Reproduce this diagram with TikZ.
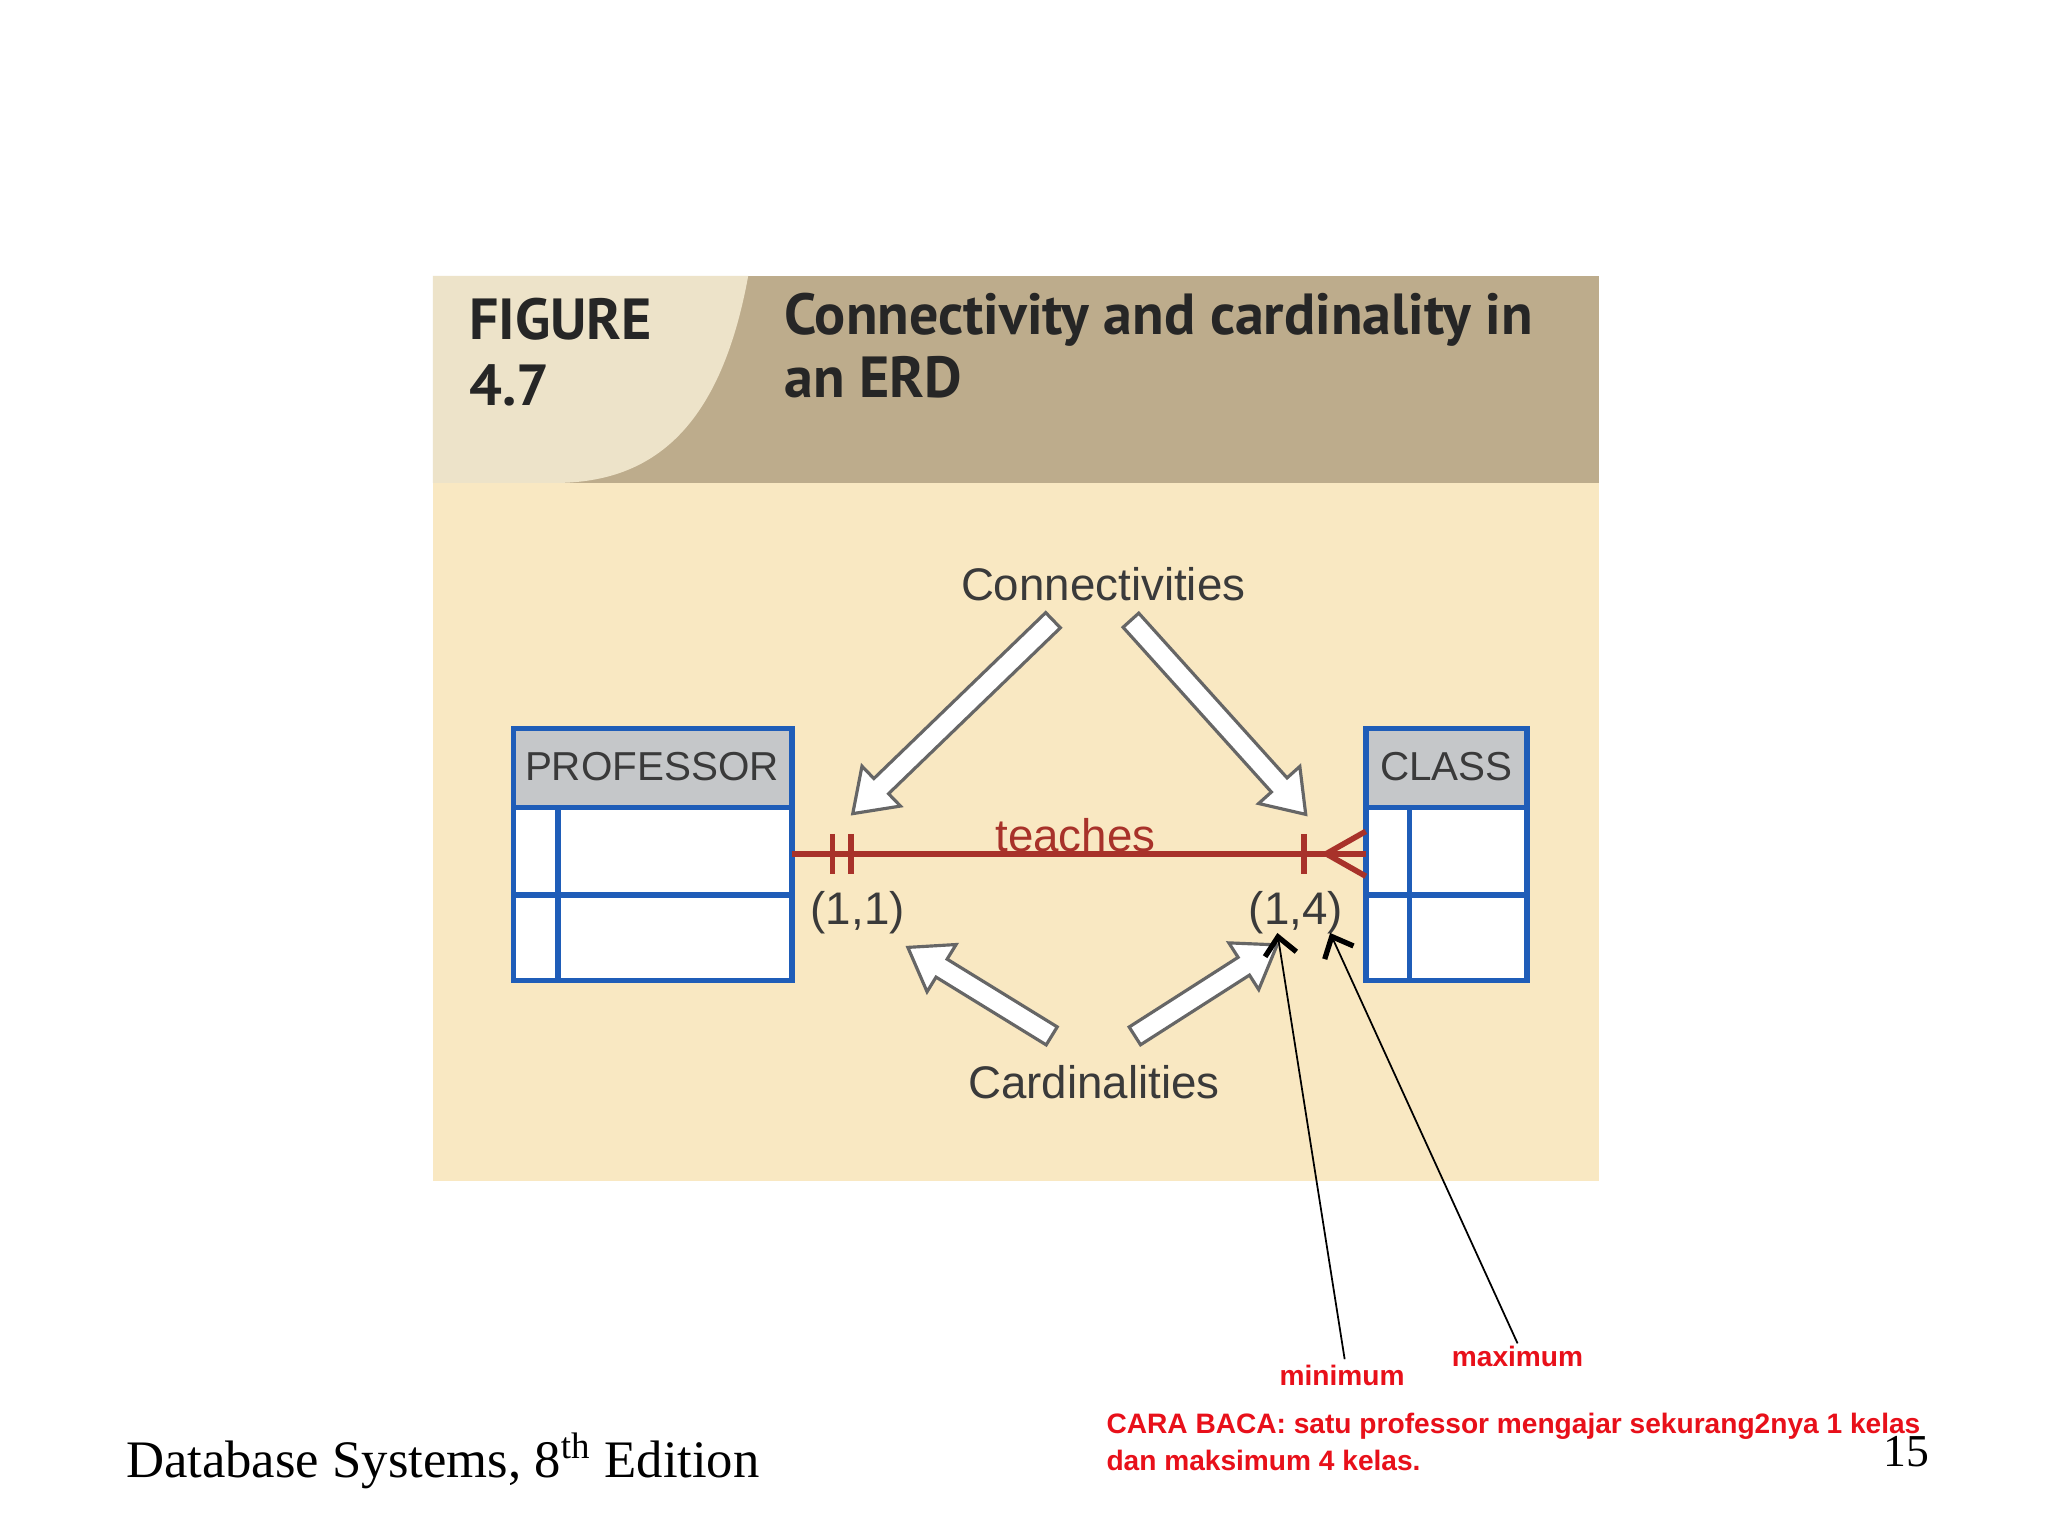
\documentclass[tikz,border=0pt]{standalone}
\usepackage{fontspec}
\setmainfont{Liberation Serif}
\newfontfamily\myss{Liberation Sans}
\newfontfamily\myfig{PT Sans}
\usetikzlibrary{arrows.meta}
\definecolor{tan}{HTML}{BDAC8C}
\definecolor{lighttan}{HTML}{EDE3C9}
\definecolor{body}{HTML}{F9E8C2}
\definecolor{hgray}{HTML}{C5C7C9}
\definecolor{eblue}{HTML}{1F5DB8}
\definecolor{ered}{HTML}{A8322A}
\definecolor{lred}{HTML}{E8101A}
\definecolor{txt}{HTML}{3A3A3A}
\newcommand\hollowarrow[3]{\draw[harrow,shift={(#1)},rotate=#2] (0,-8)--(#3-30,-8)--(#3-30,-21)--(#3,0)--(#3-30,21)--(#3-30,8)--(0,8)--cycle;}
\tikzset{
  harrow/.style={fill=white,draw=gray!80!black,line width=0.9pt,line join=miter},
  ent/.style={draw=eblue,line width=1.6pt},
  lbl/.style={font=\myss\fontsize{13}{15}\selectfont,text=txt,inner sep=0},
  ttl/.style={anchor=west,font=\myfig\bfseries\fontsize{16.5}{19}\selectfont,text=black!85,inner sep=0},
  note/.style={font=\myss\bfseries\fontsize{8}{10}\selectfont,text=lred,inner sep=0},
  ptr/.style={line width=0.5pt,-{Straight Barb[length=5pt,width=9pt,line width=1.5pt]}},
}
\begin{document}
\begin{tikzpicture}[x=0.013196cm,y=-0.013196cm]
\useasboundingbox (0,0) rectangle (1552,1164);
\fill[white] (0,0) rectangle (1552,1164);
% panel
\fill[body] (328,366) rectangle (1212,895);
\fill[tan] (328,209) rectangle (1212,366);
\fill[lighttan] (328,209) -- (567,209) .. controls (545,330) and (490,366) .. (420,366) -- (328,366) -- cycle;
\node[ttl] (fig1) at (355,242) {FIGURE};
\node[ttl] (fig2) at (355,292) {4.7};
\node[ttl] (t1) at (594,242) {Connectivity and cardinality in};
\node[ttl] (t2) at (594,286) {an ERD};
% PROFESSOR
\fill[hgray] (389,552) rectangle (600,612);
\fill[white] (389,612) rectangle (600,743);
\draw[ent] (389,552) rectangle (600,743);
\draw[ent] (389,612) -- (600,612) (389,678) -- (600,678) (423,612) -- (423,743);
\node[lbl,font=\myss\fontsize{11.5}{13}\selectfont] (prof) at (494,581) {PROFESSOR};
\coordinate (pe) at (600,647);
% CLASS
\fill[hgray] (1035,552) rectangle (1157,612);
\fill[white] (1035,612) rectangle (1157,743);
\draw[ent] (1035,552) rectangle (1157,743);
\draw[ent] (1035,612) -- (1157,612) (1035,678) -- (1157,678) (1068,612) -- (1068,743);
\node[lbl,font=\myss\fontsize{11.5}{13}\selectfont] (cls) at (1096,581) {CLASS};
\coordinate (ce) at (1035,647);
% relationship
\draw[ered,line width=1.6pt] (pe) -- (ce);
\draw[ered,line width=1.6pt] (631,632) -- (631,662) (645,632) -- (645,662) (988,632) -- (988,662);
\draw[ered,line width=1.6pt] (1035,630) -- (1005,647) -- (1035,664);
\node[lbl,text=ered] (teaches) at (815,633) {teaches};
\node[lbl] (c11) at (650,692) {(1,1)};
\node[lbl] (c14) at (982,692) {(1,4)};
\node[lbl] (conn) at (836,443) {Connectivities};
\node[lbl] (card) at (829,820) {Cardinalities};
% hollow arrows
\hollowarrow{798,470}{-136}{211}
\hollowarrow{857,470}{-48}{198}
\hollowarrow{797,785}{148.4}{128}
\hollowarrow{860,785}{32.6}{128}
% notes
\node[note] (min) at (1017,1042) {minimum};
\node[note] (max) at (1150,1028) {maximum};
\coordinate (minpt) at (968,707);
\coordinate (maxpt) at (1008,707);
\draw[ptr] (1019,1030) -- (minpt);
\draw[ptr] (1150,1018) -- (maxpt);
\node[note,anchor=west] (cara1) at (838,1081) {CARA BACA: satu professor mengajar sekurang2nya 1 kelas};
\node[note,anchor=west] (cara2) at (838,1107) {dan maksimum 4 kelas.};
% footer
\node[anchor=west,font=\fontsize{15}{17}\selectfont,inner sep=0] (foot) at (95,1107) {Database Systems, 8\textsuperscript{th} Edition};
\node[font=\fontsize{13}{15}\selectfont,inner sep=0] (pg) at (1445,1100) {15};
\end{tikzpicture}
\end{document}
